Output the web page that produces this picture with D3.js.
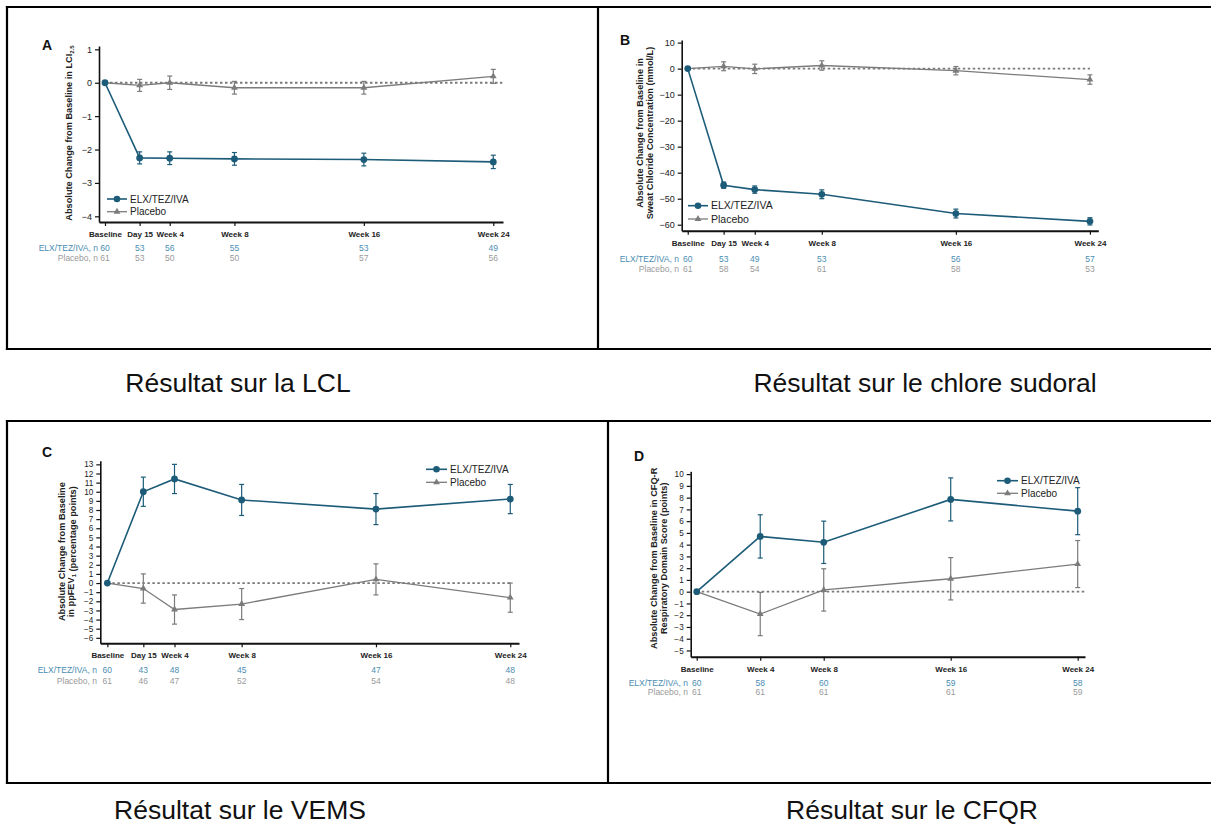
<!DOCTYPE html>
<html>
<head>
<meta charset="utf-8">
<script src="https://cdn.jsdelivr.net/npm/d3@7"></script>
<style>
  html, body { margin: 0; padding: 0; background: #fff; }
  svg { display: block; font-family: "Liberation Sans", Arial, sans-serif; }
</style>
</head>
<body>
<script>
// ---- Visit schedule (weeks since baseline) ----
const visitWeeks  = [0, 15 / 7, 4, 8, 16, 24];
const visitLabels = ["Baseline", "Day 15", "Week 4", "Week 8", "Week 16", "Week 24"];
const cfqWeeks    = [0, 4, 8, 16, 24];
const cfqLabels   = ["Baseline", "Week 4", "Week 8", "Week 16", "Week 24"];

// ---- A: LCI2.5 ----
const lciElx     = [0, -2.25, -2.26, -2.28, -2.30, -2.37];
const lciElxErr  = [0, 0.18, 0.19, 0.19, 0.19, 0.20];
const lciPbo     = [0, -0.08, 0.0, -0.15, -0.15, 0.19];
const lciPboErr  = [0, 0.18, 0.20, 0.19, 0.19, 0.21];
const lciNElx    = [60, 53, 56, 55, 53, 49];
const lciNPbo    = [61, 53, 50, 50, 57, 56];
const lciTicks   = [-4, -3, -2, -1, 0, 1];

// ---- B: sweat chloride ----
const scElx      = [0, -44.8, -46.5, -48.3, -55.7, -58.7];
const scElxErr   = [0, 1.2, 1.4, 1.7, 1.7, 1.4];
const scPbo      = [0, 0.9, -0.1, 1.2, -0.8, -4.2];
const scPboErr   = [0, 1.7, 1.8, 1.8, 1.6, 1.8];
const scNElx     = [60, 53, 49, 53, 56, 57];
const scNPbo     = [61, 58, 54, 61, 58, 53];
const scTicks    = [-60, -50, -40, -30, -20, -10, 0, 10];

// ---- C: ppFEV1 ----
const fevElx     = [0, 10.0, 11.4, 9.1, 8.1, 9.2];
const fevElxErr  = [0, 1.6, 1.6, 1.7, 1.7, 1.6];
const fevPbo     = [0, -0.6, -2.9, -2.3, 0.4, -1.6];
const fevPboErr  = [0, 1.6, 1.6, 1.7, 1.7, 1.6];
const fevNElx    = [60, 43, 48, 45, 47, 48];
const fevNPbo    = [61, 46, 47, 52, 54, 48];
const fevTicks   = d3.range(-6, 14);

// ---- D: CFQ-R respiratory domain ----
const cfqElx     = [0, 4.7, 4.2, 7.85, 6.85];
const cfqElxErr  = [0, 1.84, 1.8, 1.83, 2.0];
const cfqPbo     = [0, -1.9, 0.15, 1.1, 2.35];
const cfqPboErr  = [0, 1.84, 1.8, 1.8, 2.0];
const cfqNElx    = [60, 58, 60, 59, 58];
const cfqNPbo    = [61, 61, 61, 61, 59];
const cfqTicks   = d3.range(-5, 11);

// ---- Styling ----
const ELX_COLOR   = "#1d5c79";
const ELX_N_COLOR = "#4b8db1";
const PBO_COLOR   = "#7b7b7b";
const PBO_N_COLOR = "#9a9a9a";

const svg = d3.select("body").append("svg")
  .attr("width", 1211).attr("height", 830);

// Panel frames
const frameLines = [
  [7, 7, 1211, 7], [7, 349, 1211, 349], [7, 7, 7, 349], [598, 7, 598, 349],
  [7, 421, 1211, 421], [7, 783, 1211, 783], [7, 421, 7, 783], [608, 421, 608, 783]
];
svg.append("g").selectAll("line").data(frameLines).join("line")
  .attr("x1", d => d[0]).attr("y1", d => d[1])
  .attr("x2", d => d[2]).attr("y2", d => d[3])
  .attr("stroke", "#000").attr("stroke-width", 2.2).attr("stroke-linecap", "square");

// Captions under each panel
const captions = [
  ["Résultat sur la LCL", 238, 392],
  ["Résultat sur le chlore sudoral", 925, 392],
  ["Résultat sur le VEMS", 240, 819],
  ["Résultat sur le CFQR", 912, 819]
];
svg.append("g").selectAll("text").data(captions).join("text")
  .attr("x", d => d[1]).attr("y", d => d[2])
  .attr("text-anchor", "middle")
  .attr("font-size", 26.5).attr("fill", "#111")
  .text(d => d[0]);

const fmt = d => d < 0 ? "\u2212" + Math.abs(d) : String(d);
const triangle = d3.symbol().type(d3.symbolTriangle).size(20);

function drawPanel(c) {
  const g = svg.append("g");
  const x = d3.scaleLinear().domain(c.xDom).range(c.xRange);
  const y = d3.scaleLinear().domain(c.yDom).range(c.yRange);

  // axes
  const ya = g.append("g").attr("transform", `translate(${c.xRange[0]},0)`)
    .call(d3.axisLeft(y).tickValues(c.yTicks).tickSize(4).tickSizeOuter(0).tickPadding(3).tickFormat(fmt));
  ya.select(".domain").attr("stroke", "#111").attr("stroke-width", 1.6);
  ya.selectAll(".tick line").attr("stroke", "#111").attr("stroke-width", 1.2);
  ya.selectAll(".tick text").attr("font-size", c.yFont || 9).attr("fill", "#222");

  const xa = g.append("g").attr("transform", `translate(0,${c.yRange[0]})`)
    .call(d3.axisBottom(x).tickValues(c.weeks).tickSize(4).tickSizeOuter(0).tickPadding(5.5)
      .tickFormat((d, i) => c.labels[i]));
  xa.select(".domain").attr("stroke", "#111").attr("stroke-width", 2);
  xa.selectAll(".tick line").attr("stroke", "#111").attr("stroke-width", 1.2);
  xa.selectAll(".tick text").attr("font-size", 8).attr("font-weight", "bold").attr("fill", "#222");

  // zero reference
  g.append("line")
    .attr("x1", x(0)).attr("x2", x(24) + c.zeroExt)
    .attr("y1", y(0)).attr("y2", y(0))
    .attr("stroke", "#7a7a7a").attr("stroke-width", 1.8)
    .attr("stroke-dasharray", "2.5,2.5");

  // panel letter
  g.append("text").attr("x", c.letterX).attr("y", c.letterY)
    .attr("font-size", 14).attr("font-weight", "bold").attr("fill", "#111").text(c.letter);

  // y-axis title
  const yt = g.append("g");
  c.yTitle.forEach((line, i) => {
    const t = yt.append("text")
      .attr("transform", `translate(${c.yTitleX[i]},${c.yTitleY}) rotate(-90)`)
      .attr("text-anchor", "middle").attr("dy", "0.35em")
      .attr("font-size", 9.2).attr("font-weight", "bold").attr("fill", "#222");
    line.forEach(part => {
      if (part.sub) {
        t.append("tspan").attr("font-size", 6).attr("dy", "0.25em").text(part.sub);
        t.append("tspan").attr("dy", "-0.25em").text("");
      } else {
        t.append("tspan").text(part.t);
      }
    });
  });

  // series
  const series = [
    { v: c.pbo, e: c.pboErr, color: PBO_COLOR, w: 1.3, marker: "tri" },
    { v: c.elx, e: c.elxErr, color: ELX_COLOR, w: 1.6, marker: "dot" }
  ];
  series.forEach(s => {
    const pts = c.weeks.map((wk, i) => ({ wk, v: s.v[i], e: s.e[i] }));
    const line = d3.line().x(d => x(d.wk)).y(d => y(d.v));
    g.append("path").datum(pts).attr("d", line)
      .attr("fill", "none").attr("stroke", s.color).attr("stroke-width", s.w);
    const eb = g.append("g").attr("stroke", s.color).attr("stroke-width", 1.2);
    pts.filter(d => d.e > 0).forEach(d => {
      eb.append("line").attr("x1", x(d.wk)).attr("x2", x(d.wk))
        .attr("y1", y(d.v - d.e)).attr("y2", y(d.v + d.e));
      [d.v - d.e, d.v + d.e].forEach(yy => {
        eb.append("line").attr("x1", x(d.wk) - 2.5).attr("x2", x(d.wk) + 2.5)
          .attr("y1", y(yy)).attr("y2", y(yy));
      });
    });
    if (s.marker === "dot") {
      g.append("g").selectAll("circle").data(pts).join("circle")
        .attr("cx", d => x(d.wk)).attr("cy", d => y(d.v)).attr("r", 3.4)
        .attr("fill", s.color);
    } else {
      g.append("g").selectAll("path").data(pts.slice(1)).join("path")
        .attr("d", triangle)
        .attr("transform", d => `translate(${x(d.wk)},${y(d.v)})`)
        .attr("fill", s.color);
    }
  });

  // number-at-risk rows
  const rows = [
    { label: "ELX/TEZ/IVA, n", n: c.nElx, y: c.nY[0], color: ELX_N_COLOR },
    { label: "Placebo, n", n: c.nPbo, y: c.nY[1], color: PBO_N_COLOR }
  ];
  rows.forEach(r => {
    g.append("text").attr("x", c.nLabelX).attr("y", r.y).attr("dy", "0.35em")
      .attr("text-anchor", "end").attr("font-size", 8.5).attr("fill", r.color).text(r.label);
    g.append("g").selectAll("text").data(r.n).join("text")
      .attr("x", (d, i) => x(c.weeks[i])).attr("y", r.y).attr("dy", "0.35em")
      .attr("text-anchor", "middle").attr("font-size", 8.5).attr("fill", r.color)
      .text(d => d);
  });

  // legend
  const lg = g.append("g");
  const legendItems = [
    { name: "ELX/TEZ/IVA", color: ELX_COLOR, marker: "dot", y: c.legend.y[0] },
    { name: "Placebo", color: PBO_COLOR, marker: "tri", y: c.legend.y[1] }
  ];
  legendItems.forEach(it => {
    const x0 = c.legend.x, x1 = c.legend.x + c.legend.len;
    lg.append("line").attr("x1", x0).attr("x2", x1).attr("y1", it.y).attr("y2", it.y)
      .attr("stroke", it.color).attr("stroke-width", it.marker === "dot" ? 1.6 : 1.3);
    if (it.marker === "dot") {
      lg.append("circle").attr("cx", (x0 + x1) / 2).attr("cy", it.y).attr("r", 3.3).attr("fill", it.color);
    } else {
      lg.append("path").attr("d", triangle)
        .attr("transform", `translate(${(x0 + x1) / 2},${it.y})`).attr("fill", it.color);
    }
    lg.append("text").attr("x", x1 + 3).attr("y", it.y).attr("dy", "0.35em")
      .attr("font-size", c.legend.font).attr("fill", "#222").text(it.name);
  });
}

// A
drawPanel({
  letter: "A", letterX: 42, letterY: 50,
  weeks: visitWeeks, labels: visitLabels,
  xDom: [-0.37, 24.6], xRange: [99, 503],
  yDom: [-4.17, 1.1], yRange: [222, 46], yTicks: lciTicks,
  elx: lciElx, elxErr: lciElxErr, pbo: lciPbo, pboErr: lciPboErr,
  nElx: lciNElx, nPbo: lciNPbo, nY: [248, 258], nLabelX: 98,
  yTitle: [[{ t: "Absolute Change from Baseline in LCI" }, { sub: "2.5" }]],
  yTitleX: [69], yTitleY: 133,
  zeroExt: 9,
  legend: { x: 107, len: 20, y: [199, 211.7], font: 10 }
});

// B
drawPanel({
  letter: "B", letterX: 620, letterY: 45,
  weeks: visitWeeks, labels: visitLabels,
  xDom: [-0.36, 24.5], xRange: [681.7, 1098.3],
  yDom: [-62.3, 11.0], yRange: [230.7, 40], yTicks: scTicks,
  elx: scElx, elxErr: scElxErr, pbo: scPbo, pboErr: scPboErr,
  nElx: scNElx, nPbo: scNPbo, nY: [259.3, 268.7], nLabelX: 679,
  yTitle: [[{ t: "Absolute Change from Baseline in" }], [{ t: "Sweat Chloride Concentration (mmol/L)" }]],
  yTitleX: [639.5, 649.3], yTitleY: 133,
  zeroExt: 0,
  legend: { x: 688, len: 20, y: [205.7, 219], font: 10.5 }
});

// C
drawPanel({
  letter: "C", letterX: 42, letterY: 457,
  weeks: visitWeeks, labels: visitLabels,
  xDom: [-0.42, 24.52], xRange: [100.3, 519],
  yDom: [-6.6, 13.4], yRange: [643.3, 460.7], yTicks: fevTicks, yFont: 8.2,
  elx: fevElx, elxErr: fevElxErr, pbo: fevPbo, pboErr: fevPboErr,
  nElx: fevNElx, nPbo: fevNPbo, nY: [670, 681], nLabelX: 97,
  yTitle: [[{ t: "Absolute Change from Baseline" }], [{ t: "in ppFEV" }, { sub: "1" }, { t: " (percentage points)" }]],
  yTitleX: [61.7, 70.9], yTitleY: 551.7,
  zeroExt: 0,
  legend: { x: 426, len: 21, y: [469.3, 482.3], font: 10 }
});

// D
drawPanel({
  letter: "D", letterX: 634, letterY: 461,
  weeks: cfqWeeks, labels: cfqLabels,
  xDom: [-0.38, 24.46], xRange: [690.7, 1085],
  yDom: [-5.53, 10.24], yRange: [656.7, 471.3], yTicks: cfqTicks, yFont: 8.2,
  elx: cfqElx, elxErr: cfqElxErr, pbo: cfqPbo, pboErr: cfqPboErr,
  nElx: cfqNElx, nPbo: cfqNPbo, nY: [682.7, 691.7], nLabelX: 688,
  yTitle: [[{ t: "Absolute Change from Baseline in CFQ-R" }], [{ t: "Respiratory Domain Score (points)" }]],
  yTitleX: [654, 663.3], yTitleY: 558.3,
  zeroExt: 7,
  legend: { x: 997, len: 21, y: [480.7, 493.3], font: 10 }
});
</script>
</body>
</html>
